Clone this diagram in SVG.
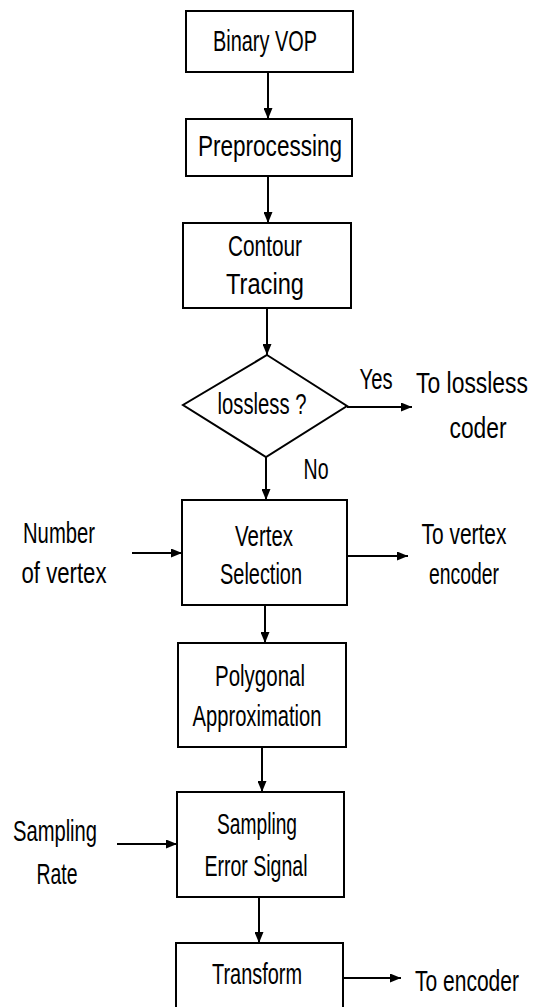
<svg xmlns="http://www.w3.org/2000/svg" width="541" height="1007" viewBox="0 0 541 1007">
<style>
  .box { fill: #fff; stroke: #000; stroke-width: 2; }
  .ln { stroke: #000; stroke-width: 2; fill: none; }
  text { font-family: "Liberation Sans", Arial, sans-serif; font-size: 30px; fill: #000; text-anchor: middle; }
</style>
<defs>
  <marker id="ah" viewBox="0 0 11 9" refX="11" refY="4.5" markerWidth="11" markerHeight="9" markerUnits="userSpaceOnUse" orient="auto">
    <path d="M0,0 L11,4.5 L0,9 Z" fill="#000"/>
  </marker>
</defs>
<rect width="541" height="1007" fill="#fff"/>

<g id="connectors">
  <line class="ln" x1="268" y1="72" x2="268" y2="119" marker-end="url(#ah)"/>
  <line class="ln" x1="268" y1="176" x2="268" y2="223" marker-end="url(#ah)"/>
  <line class="ln" x1="267" y1="308" x2="267" y2="355" marker-end="url(#ah)"/>
  <line class="ln" x1="266" y1="457" x2="266" y2="500" marker-end="url(#ah)"/>
  <line class="ln" x1="265" y1="605" x2="265" y2="643" marker-end="url(#ah)"/>
  <line class="ln" x1="262" y1="747" x2="262" y2="792" marker-end="url(#ah)"/>
  <line class="ln" x1="259" y1="897" x2="259" y2="943" marker-end="url(#ah)"/>
  <line class="ln" x1="347" y1="407" x2="412" y2="407" marker-end="url(#ah)"/>
  <line class="ln" x1="132" y1="553" x2="182" y2="553" marker-end="url(#ah)"/>
  <line class="ln" x1="347" y1="556" x2="408" y2="556" marker-end="url(#ah)"/>
  <line class="ln" x1="117" y1="844" x2="177" y2="844" marker-end="url(#ah)"/>
  <line class="ln" x1="343" y1="978" x2="401" y2="978" marker-end="url(#ah)"/>
</g>

<g id="binary-vop">
  <rect class="box" x="186" y="11" width="167" height="61"/>
  <text transform="matrix(0.75,0,0,1,265,51)" textLength="138.7" lengthAdjust="spacingAndGlyphs">Binary VOP</text>
</g>
<g id="preprocessing">
  <rect class="box" x="186" y="119" width="166" height="57"/>
  <text transform="matrix(0.75,0,0,1,270,156)" textLength="192" lengthAdjust="spacingAndGlyphs">Preprocessing</text>
</g>
<g id="contour-tracing">
  <rect class="box" x="183" y="223" width="168" height="85"/>
  <text transform="matrix(0.75,0,0,1,265,256)" textLength="98.7" lengthAdjust="spacingAndGlyphs">Contour</text>
  <text transform="matrix(0.75,0,0,1,265,294)" textLength="104" lengthAdjust="spacingAndGlyphs">Tracing</text>
</g>
<g id="lossless">
  <polygon class="box" points="267,355 347,406 266,457 183,405"/>
  <text transform="matrix(0.75,0,0,1,262,414)" textLength="118.7" lengthAdjust="spacingAndGlyphs">lossless ?</text>
</g>
<g id="vertex-selection">
  <rect class="box" x="182" y="500" width="165" height="105"/>
  <text transform="matrix(0.75,0,0,1,264,546)" textLength="77.3" lengthAdjust="spacingAndGlyphs">Vertex</text>
  <text transform="matrix(0.75,0,0,1,261,584)" textLength="109.3" lengthAdjust="spacingAndGlyphs">Selection</text>
</g>
<g id="polygonal-approximation">
  <rect class="box" x="178" y="643" width="168" height="104"/>
  <text transform="matrix(0.75,0,0,1,260,686)" textLength="120" lengthAdjust="spacingAndGlyphs">Polygonal</text>
  <text transform="matrix(0.75,0,0,1,257,726)" textLength="172" lengthAdjust="spacingAndGlyphs">Approximation</text>
</g>
<g id="sampling-error-signal">
  <rect class="box" x="177" y="792" width="167" height="105"/>
  <text transform="matrix(0.75,0,0,1,257,834)" textLength="106.7" lengthAdjust="spacingAndGlyphs">Sampling</text>
  <text transform="matrix(0.75,0,0,1,256,876)" textLength="137.3" lengthAdjust="spacingAndGlyphs">Error Signal</text>
</g>
<g id="transform">
  <rect class="box" x="176" y="943" width="167" height="70"/>
  <text transform="matrix(0.75,0,0,1,257,984)" textLength="120" lengthAdjust="spacingAndGlyphs">Transform</text>
</g>

<g id="labels">
  <text transform="matrix(0.75,0,0,1,376,389)" textLength="44" lengthAdjust="spacingAndGlyphs">Yes</text>
  <text transform="matrix(0.75,0,0,1,316,479)" textLength="33.3" lengthAdjust="spacingAndGlyphs">No</text>
  <text transform="matrix(0.75,0,0,1,472,393)" textLength="149.3" lengthAdjust="spacingAndGlyphs">To lossless</text>
  <text transform="matrix(0.75,0,0,1,478,438)" textLength="76" lengthAdjust="spacingAndGlyphs">coder</text>
  <text transform="matrix(0.75,0,0,1,464,544)" textLength="113.3" lengthAdjust="spacingAndGlyphs">To vertex</text>
  <text transform="matrix(0.75,0,0,1,464,584)" textLength="93.3" lengthAdjust="spacingAndGlyphs">encoder</text>
  <text transform="matrix(0.75,0,0,1,59,543)" textLength="96" lengthAdjust="spacingAndGlyphs">Number</text>
  <text transform="matrix(0.75,0,0,1,64,583)" textLength="113.3" lengthAdjust="spacingAndGlyphs">of vertex</text>
  <text transform="matrix(0.75,0,0,1,55,841)" textLength="112" lengthAdjust="spacingAndGlyphs">Sampling</text>
  <text transform="matrix(0.75,0,0,1,57,884)" textLength="54.7" lengthAdjust="spacingAndGlyphs">Rate</text>
  <text transform="matrix(0.75,0,0,1,467,991)" textLength="138.7" lengthAdjust="spacingAndGlyphs">To encoder</text>
</g>
</svg>
